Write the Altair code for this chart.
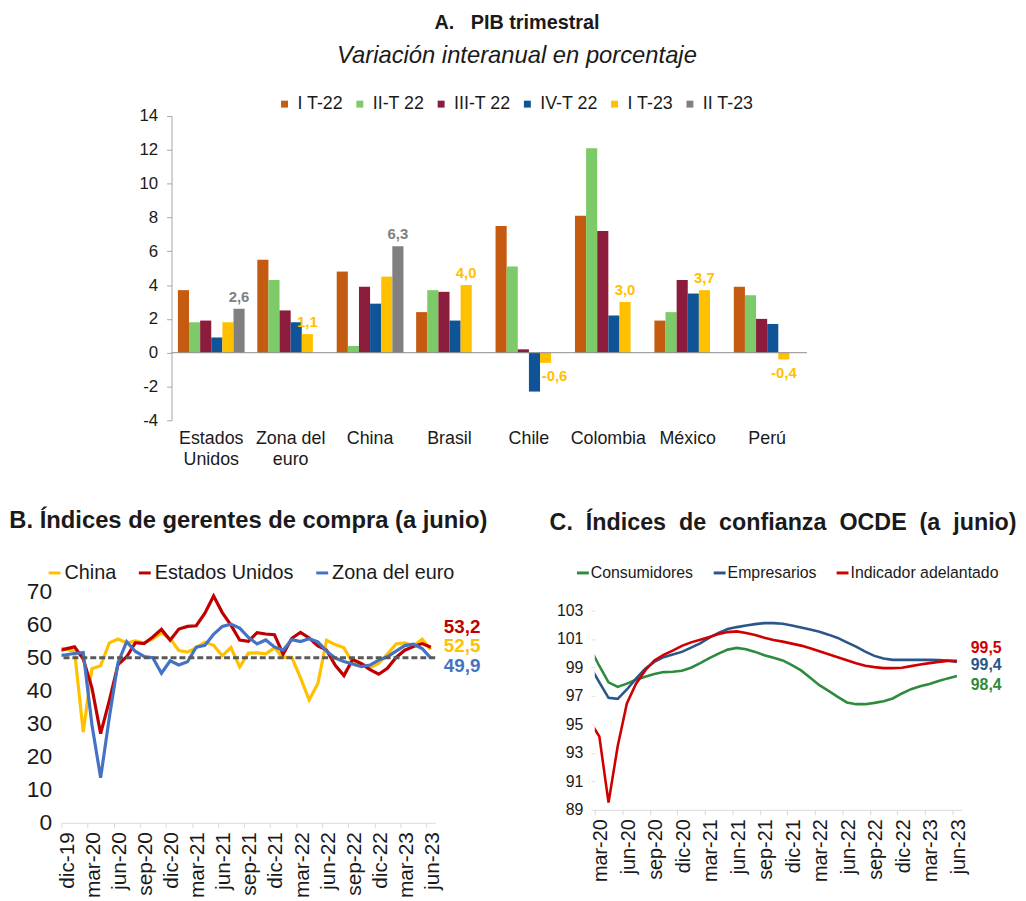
import altair as alt
import pandas as pd

FONT = "Liberation Sans, Arial, sans-serif"
TXT = "#1a1a1a"

# ---------------- Panel A: PIB trimestral ----------------
countries = ["Estados Unidos", "Zona del euro", "China", "Brasil", "Chile", "Colombia", "México", "Perú"]
quarters = ["I T-22", "II-T 22", "III-T 22", "IV-T 22", "I T-23", "II T-23"]
q1_22 = [3.7, 5.5, 4.8, 2.4, 7.5, 8.1, 1.9, 3.9]
q2_22 = [1.8, 4.3, 0.4, 3.7, 5.1, 12.1, 2.4, 3.4]
q3_22 = [1.9, 2.5, 3.9, 3.6, 0.2, 7.2, 4.3, 2.0]
q4_22 = [0.9, 1.8, 2.9, 1.9, -2.3, 2.2, 3.5, 1.7]
q1_23 = [1.8, 1.1, 4.5, 4.0, -0.6, 3.0, 3.7, -0.4]
q2_23 = [2.6, None, 6.3, None, None, None, None, None]
colors_a = ["#C55A11", "#7DCB68", "#8B1C3C", "#0E5496", "#FFC000", "#808080"]
ticks_a = [-4, -2, 0, 2, 4, 6, 8, 10, 12, 14]

series_a = [q1_22, q2_22, q3_22, q4_22, q1_23, q2_23]
rows_a, rows_lab = [], []
for ci, c in enumerate(countries):
    last = None
    for q, vals in zip(quarters, series_a):
        v = vals[ci]
        if v is not None:
            rows_a.append({"pais": c, "trimestre": q, "valor": v})
            last = (q, v)
    rows_lab.append({"pais": c, "trimestre": last[0], "valor": last[1],
                     "etiqueta": f"{last[1]:.1f}".replace(".", ",")})
df_a = pd.DataFrame(rows_a)
df_lab = pd.DataFrame(rows_lab)
df_zero = pd.DataFrame({"valor": [0]})

x_a = alt.X("pais:N", sort=countries,
            scale=alt.Scale(domain=countries, paddingInner=0.16, paddingOuter=0.08),
            axis=alt.Axis(title=None, domain=False, ticks=False, labelAngle=0,
                          labelFontSize=18, labelPadding=9, labelLineHeight=22,
                          labelBaseline="top", labelOverlap=False, labelColor=TXT,
                          labelExpr="datum.label == 'Estados Unidos' ? ['Estados', 'Unidos'] : "
                                    "datum.label == 'Zona del euro' ? ['Zona del', 'euro'] : datum.label"))
xo_a = alt.XOffset("trimestre:N", sort=quarters, scale=alt.Scale(domain=quarters))
y_a = alt.Y("valor:Q", scale=alt.Scale(domain=[-4, 14], nice=False),
            axis=alt.Axis(title=None, values=ticks_a, grid=False, domainColor="#A6A6A6",
                          tickColor="#A6A6A6", tickSize=5, labelFontSize=17, labelPadding=9,
                          labelOverlap=False, labelColor=TXT, labelExpr="'' + datum.value"))

bars = alt.Chart(df_a).mark_bar().encode(
    x=x_a, xOffset=xo_a, y=y_a,
    color=alt.Color("trimestre:N", sort=quarters,
                    scale=alt.Scale(domain=quarters, range=colors_a),
                    legend=alt.Legend(title=None, orient="none", legendX=105, legendY=-21,
                                      direction="horizontal", columns=6, symbolType="square",
                                      symbolSize=49, labelFontSize=18, labelOffset=4,
                                      columnPadding=7, labelColor=TXT, padding=0)))
zero = alt.Chart(df_zero).mark_rule(color="#8C8C8C", strokeWidth=1).encode(y=y_a)

fill_a = alt.Fill("trimestre:N", scale=alt.Scale(domain=quarters, range=colors_a), legend=None)
lab_base = alt.Chart(df_lab).encode(x=x_a, xOffset=xo_a, y=y_a, text="etiqueta:N", fill=fill_a)
lab_pos = lab_base.transform_filter("datum.valor >= 0").mark_text(
    fontSize=15, fontWeight="bold", baseline="middle", dy=-12)
lab_neg = lab_base.transform_filter("datum.valor < 0 && datum.pais != 'Chile'").mark_text(
    fontSize=15, fontWeight="bold", baseline="middle", dy=14)
lab_chile = lab_base.transform_filter("datum.valor < 0 && datum.pais == 'Chile'").mark_text(
    fontSize=15, fontWeight="bold", baseline="middle", dy=13, dx=9)

chart_a = alt.layer(bars, zero, lab_pos, lab_neg, lab_chile).properties(
    width=641, height=307,
    title=alt.TitleParams(text="A.\u00a0\u00a0 PIB trimestral\u00a0\u00a0\u00a0",
                          subtitle="Variación interanual en porcentaje",
                          fontSize=20, fontWeight="bold", color=TXT, subtitleFontSize=24,
                          subtitleFontStyle="italic", subtitleColor=TXT, subtitlePadding=12,
                          anchor="middle", dx=28, offset=27, frame="group"))

spacer = alt.Chart(pd.DataFrame({"s": [0]})).mark_point(opacity=0).encode(
    x=alt.value(2), y=alt.value(2)).properties(width=76, height=10)

# ---------------- Panel B: PMI ----------------
months_b = ["nov-19", "dic-19", "ene-20", "feb-20", "mar-20", "abr-20", "may-20", "jun-20", "jul-20",
            "ago-20", "sep-20", "oct-20", "nov-20", "dic-20", "ene-21", "feb-21", "mar-21", "abr-21",
            "may-21", "jun-21", "jul-21", "ago-21", "sep-21", "oct-21", "nov-21", "dic-21", "ene-22",
            "feb-22", "mar-22", "abr-22", "may-22", "jun-22", "jul-22", "ago-22", "sep-22", "oct-22",
            "nov-22", "dic-22", "ene-23", "feb-23", "mar-23", "abr-23", "may-23", "jun-23"]
pmi_china = [53.2, 52.6, 51.9, 27.5, 46.7, 47.6, 54.5, 55.7, 54.5, 55.1, 54.5, 55.7, 57.5, 55.8,
             52.2, 51.7, 53.1, 54.7, 53.8, 50.6, 53.1, 47.2, 51.4, 51.5, 51.2, 53.0, 50.1, 50.1,
             43.9, 37.2, 42.2, 55.3, 54.0, 53.0, 48.5, 48.3, 47.0, 48.3, 51.1, 54.2, 54.5, 53.6,
             55.6, 52.5]
pmi_eeuu = [52.0, 52.7, 53.3, 49.6, 40.9, 27.0, 37.0, 47.9, 50.3, 54.6, 54.3, 56.3, 58.6, 55.3,
            58.7, 59.5, 59.7, 63.5, 68.7, 63.7, 59.9, 55.4, 55.0, 57.6, 57.2, 57.0, 51.1, 55.9,
            57.7, 56.0, 53.6, 52.3, 47.7, 44.6, 49.5, 48.2, 46.4, 45.0, 46.8, 50.1, 52.3, 53.4,
            54.3, 53.2]
pmi_euro = [50.6, 50.9, 51.3, 51.6, 29.7, 13.6, 31.9, 48.5, 54.9, 51.9, 50.4, 50.0, 45.3, 49.1,
            47.8, 48.8, 53.2, 53.8, 57.1, 59.5, 60.2, 59.0, 56.2, 54.2, 55.4, 53.3, 52.3, 55.5,
            54.9, 55.8, 54.8, 52.0, 49.9, 48.9, 48.1, 47.3, 47.8, 49.3, 50.3, 52.0, 53.7, 54.1,
            52.8, 49.9]
series_b = ["China", "Estados Unidos", "Zona del euro"]
colors_b = ["#FFC000", "#C00000", "#4472C4"]
ticks_b = ["dic-19", "mar-20", "jun-20", "sep-20", "dic-20", "mar-21", "jun-21", "sep-21", "dic-21",
           "mar-22", "jun-22", "sep-22", "dic-22", "mar-23", "jun-23"]
ref_b = [50]

rows_b = []
for name, vals in zip(series_b, [pmi_china, pmi_eeuu, pmi_euro]):
    for k, v in enumerate(vals):
        rows_b.append({"serie": name, "mes": months_b[k], "k": k, "pmi": v})
df_b = pd.DataFrame(rows_b)
df_b_end = pd.DataFrame([{"serie": n, "k": len(v) - 1, "pmi": v[-1],
                          "etiqueta": f"{v[-1]:.1f}".replace(".", ",")}
                         for n, v in zip(series_b, [pmi_china, pmi_eeuu, pmi_euro])])
df_b_ref = pd.DataFrame({"pmi": ref_b})

lab_expr_b = "[" + ",".join(f"'{t}'" for t in ticks_b) + "][round(datum.value / 3)]"
x_b = alt.X("pos:Q", scale=alt.Scale(domain=[0, 43], nice=False, zero=False),
            axis=alt.Axis(title=None, values=[3 * i for i in range(len(ticks_b))],
                          labelExpr=lab_expr_b, labelAngle=-90, labelFontSize=21,
                          labelOffset=6, labelPadding=4, labelOverlap=False,
                          domainColor="#D9D9D9", tickColor="#D9D9D9", tickSize=5, grid=False,
                          labelColor=TXT))
y_b = alt.Y("pmi:Q", scale=alt.Scale(domain=[0, 70], nice=False),
            axis=alt.Axis(title=None, values=list(range(0, 71, 10)), domain=False, ticks=False,
                          grid=False, labelFontSize=23, labelPadding=10, labelOverlap=False,
                          labelColor=TXT))
color_b = alt.Color("serie:N", sort=series_b, scale=alt.Scale(domain=series_b, range=colors_b),
                    legend=alt.Legend(title=None, orient="none", legendX=-17, legendY=-29,
                                      direction="horizontal", columns=3, symbolType="stroke",
                                      symbolSize=144, symbolStrokeWidth=3, labelFontSize=20,
                                      labelOffset=0, columnPadding=16, labelColor=TXT, padding=0))
fill_b = alt.Fill("serie:N", scale=alt.Scale(domain=series_b, range=colors_b), legend=None)

lines_b = alt.Chart(df_b).transform_calculate(pos="datum.k - 0.5").mark_line(
    strokeWidth=3.2, clip=True).encode(x=x_b, y=y_b, color=color_b, order="k:Q")
ref_line_b = alt.Chart(df_b_ref).mark_rule(color="#595959", strokeWidth=3, strokeDash=[6, 3]).encode(y=y_b)
end_b = alt.Chart(df_b_end).transform_calculate(pos="datum.k - 0.5").encode(
    x=x_b, y=y_b, text="etiqueta:N", fill=fill_b)
end_b_us = end_b.transform_filter("datum.serie == 'Estados Unidos'").mark_text(
    align="left", baseline="middle", fontSize=19, fontWeight="bold", dx=13, dy=-20)
end_b_cn = end_b.transform_filter("datum.serie == 'China'").mark_text(
    align="left", baseline="middle", fontSize=19, fontWeight="bold", dx=13, dy=-3)
end_b_eu = end_b.transform_filter("datum.serie == 'Zona del euro'").mark_text(
    align="left", baseline="middle", fontSize=19, fontWeight="bold", dx=13, dy=8)

chart_b = alt.layer(lines_b, ref_line_b, end_b_us, end_b_cn, end_b_eu).properties(
    width=377, height=233,
    title=alt.TitleParams(text="B. Índices de gerentes de compra (a junio)", fontSize=24,
                          fontWeight="bold", color=TXT, anchor="middle", offset=30, frame="group"))

# ---------------- Panel C: Confianza OCDE ----------------
months_c = ["feb-20", "mar-20", "abr-20", "may-20", "jun-20", "jul-20", "ago-20", "sep-20", "oct-20",
            "nov-20", "dic-20", "ene-21", "feb-21", "mar-21", "abr-21", "may-21", "jun-21", "jul-21",
            "ago-21", "sep-21", "oct-21", "nov-21", "dic-21", "ene-22", "feb-22", "mar-22", "abr-22",
            "may-22", "jun-22", "jul-22", "ago-22", "sep-22", "oct-22", "nov-22", "dic-22", "ene-23",
            "feb-23", "mar-23", "abr-23", "may-23", "jun-23"]
consumidores = [100.34, 99.10, 97.95, 97.63, 97.86, 98.14, 98.35, 98.53, 98.67, 98.70, 98.77, 98.98,
                99.30, 99.65, 99.97, 100.25, 100.37, 100.27, 100.09, 99.85, 99.68, 99.49, 99.16,
                98.79, 98.28, 97.75, 97.35, 96.93, 96.54, 96.42, 96.42, 96.51, 96.63, 96.82, 97.17,
                97.47, 97.68, 97.84, 98.05, 98.23, 98.39]
empresarios = [99.07, 97.95, 96.86, 96.79, 97.45, 98.21, 98.91, 99.39, 99.72, 99.90, 100.09, 100.39,
               100.69, 101.09, 101.43, 101.69, 101.83, 101.94, 102.04, 102.11, 102.11, 102.06,
               101.94, 101.80, 101.66, 101.50, 101.30, 101.07, 100.76, 100.46, 100.11, 99.81,
               99.62, 99.53, 99.53, 99.53, 99.53, 99.53, 99.52, 99.49, 99.39]
adelantado = [95.17, 94.15, 89.51, 93.46, 96.47, 97.86, 98.79, 99.49, 99.88, 100.18, 100.51, 100.76,
              100.95, 101.13, 101.34, 101.48, 101.53, 101.41, 101.27, 101.09, 100.93, 100.81,
              100.67, 100.53, 100.34, 100.13, 99.92, 99.72, 99.51, 99.30, 99.12, 99.02, 98.95,
              98.95, 98.98, 99.09, 99.21, 99.30, 99.39, 99.46, 99.46]
series_c = ["Consumidores", "Empresarios", "Indicador adelantado"]
colors_c = ["#2E8B3E", "#2B5689", "#D00000"]
ticks_c = ["mar-20", "jun-20", "sep-20", "dic-20", "mar-21", "jun-21", "sep-21", "dic-21",
           "mar-22", "jun-22", "sep-22", "dic-22", "mar-23", "jun-23"]
yticks_c = [89, 91, 93, 95, 97, 99, 101, 103]

rows_c = []
for name, vals in zip(series_c, [consumidores, empresarios, adelantado]):
    for k, v in enumerate(vals):
        rows_c.append({"serie_c": name, "mes": months_c[k], "k": k, "indice": v})
df_c = pd.DataFrame(rows_c)
df_c_end = pd.DataFrame([{"serie_c": n, "k": len(v) - 1, "indice": v[-1],
                          "etiqueta": f"{v[-1]:.1f}".replace(".", ",")}
                         for n, v in zip(series_c, [consumidores, empresarios, adelantado])])

lab_expr_c = "[" + ",".join(f"'{t}'" for t in ticks_c) + "][round(datum.value / 3)]"
x_c = alt.X("pos:Q", scale=alt.Scale(domain=[0, 40], nice=False, zero=False),
            axis=alt.Axis(title=None, values=[3 * i for i in range(len(ticks_c))],
                          labelExpr=lab_expr_c, labelAngle=-90, labelFontSize=20,
                          labelOffset=6, labelPadding=4, labelOverlap=False,
                          domainColor="#D9D9D9", tickColor="#D9D9D9", tickSize=5, grid=False,
                          labelColor=TXT))
y_c = alt.Y("indice:Q", scale=alt.Scale(domain=[89, 104.31], nice=False, zero=False),
            axis=alt.Axis(title=None, values=yticks_c, domain=False, ticks=True, tickSize=4,
                          tickColor="#E0E0E0", grid=False, labelFontSize=16, labelPadding=8,
                          labelOverlap=False, labelColor=TXT))
color_c = alt.Color("serie_c:N", sort=series_c, scale=alt.Scale(domain=series_c, range=colors_c),
                    legend=alt.Legend(title=None, orient="none", legendX=-20, legendY=-27,
                                      direction="horizontal", columns=3, symbolType="stroke",
                                      symbolSize=144, symbolStrokeWidth=3, labelFontSize=16,
                                      labelOffset=0, columnPadding=14, labelColor=TXT, padding=0))
fill_c = alt.Fill("serie_c:N", scale=alt.Scale(domain=series_c, range=colors_c), legend=None)

lines_c = alt.Chart(df_c).transform_calculate(pos="datum.k - 0.5").mark_line(
    strokeWidth=2.6, clip=True).encode(x=x_c, y=y_c, color=color_c, order="k:Q")
end_c = alt.Chart(df_c_end).transform_calculate(pos="datum.k - 0.5").encode(
    x=x_c, y=y_c, text="etiqueta:N", fill=fill_c)
end_c_red = end_c.transform_filter("datum.serie_c == 'Indicador adelantado'").mark_text(
    align="left", baseline="middle", fontSize=16, fontWeight="bold", dx=14, dy=-13)
end_c_blue = end_c.transform_filter("datum.serie_c == 'Empresarios'").mark_text(
    align="left", baseline="middle", fontSize=16, fontWeight="bold", dx=14, dy=3)
end_c_green = end_c.transform_filter("datum.serie_c == 'Consumidores'").mark_text(
    align="left", baseline="middle", fontSize=16, fontWeight="bold", dx=14, dy=9)

chart_c = alt.layer(lines_c, end_c_red, end_c_blue, end_c_green).properties(
    width=370, height=220,
    title=alt.TitleParams(text="C.\u00a0 Índices\u00a0 de\u00a0 confianza\u00a0 OCDE\u00a0 (a\u00a0 junio)",
                          fontSize=23.5, fontWeight="bold", color=TXT, anchor="middle", dx=5,
                          offset=31, frame="group"))

top = alt.hconcat(spacer, chart_a, spacing=0).resolve_scale(
    color="independent", fill="independent", x="independent", y="independent")
bottom = alt.hconcat(chart_b, chart_c, spacing=60).resolve_scale(
    color="independent", fill="independent", x="independent", y="independent")

chart = alt.vconcat(top, bottom, spacing=39).resolve_scale(
    color="independent", fill="independent", x="independent", y="independent").properties(
    padding=0).configure(font=FONT).configure_view(stroke="transparent").configure_axis(
    labelFont=FONT).configure_legend(labelFont=FONT).configure_title(font=FONT, subtitleFont=FONT)

chart.save("out.html", embed_options={"renderer": "svg", "actions": False})
